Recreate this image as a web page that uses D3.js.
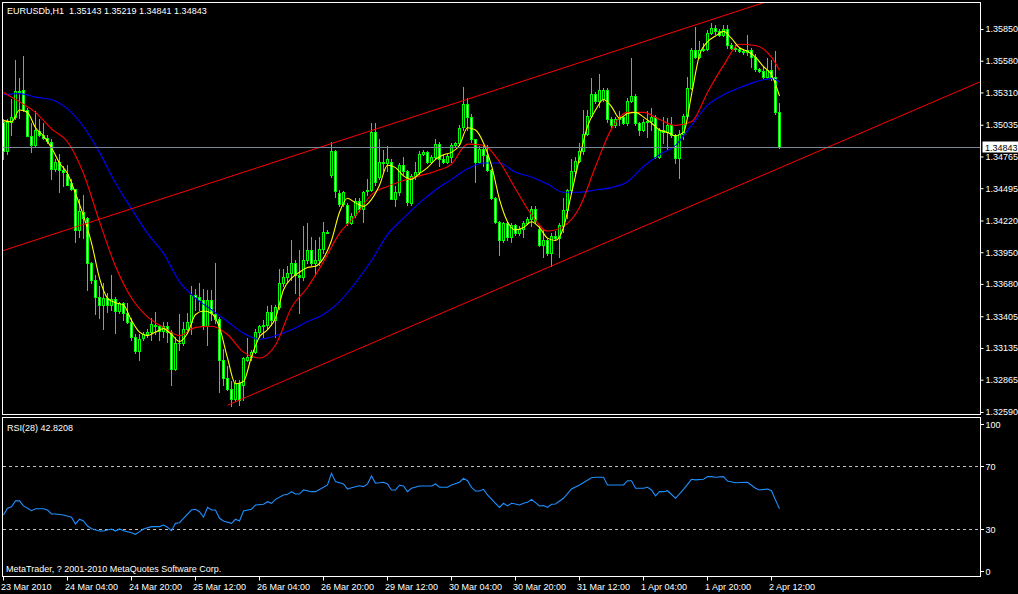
<!DOCTYPE html>
<html><head><meta charset="utf-8">
<script src="https://cdn.jsdelivr.net/npm/d3@7"></script>
<style>html,body{margin:0;padding:0;background:#000;overflow:hidden}svg{display:block}</style>
</head><body>
<svg id="c" width="1018" height="594"></svg>
<script>
// ---------------- DATA ----------------
const symbol = "EURUSDb,H1";
const opens = [
1.3506,1.3481,1.3506,1.3510,1.3532,1.3533,1.3516,1.3494,1.3486,1.3498,
1.3495,1.3492,1.3489,1.3466,1.3472,1.3465,1.3462,1.3454,1.3449,1.3414,
1.3429,1.3424,1.3386,1.3371,1.3357,1.3350,1.3356,1.3350,1.3355,1.3345,
1.3352,1.3343,1.3336,1.3323,1.3311,1.3322,1.3325,1.3327,1.3333,1.3332,
1.3328,1.3332,1.3327,1.3296,1.3318,1.3318,1.3330,1.3336,1.3359,1.3357,
1.3354,1.3332,1.3354,1.3342,1.3338,1.3303,1.3288,1.3279,1.3270,1.3284,
1.3282,1.3303,1.3306,1.3310,1.3327,1.3332,1.3333,1.3344,1.3337,1.3348,
1.3369,1.3374,1.3377,1.3386,1.3376,1.3374,1.3388,1.3397,1.3386,1.3388,
1.3398,1.3412,1.3461,1.3481,1.3445,1.3436,1.3435,1.3420,1.3427,1.3439,
1.3432,1.3447,1.3448,1.3497,1.3459,1.3472,1.3471,1.3472,1.3440,1.3446,
1.3469,1.3464,1.3437,1.3460,1.3463,1.3479,1.3480,1.3472,1.3476,1.3487,
1.3474,1.3472,1.3476,1.3486,1.3488,1.3502,1.3521,1.3510,1.3491,1.3472,
1.3483,1.3478,1.3465,1.3441,1.3421,1.3405,1.3420,1.3408,1.3418,1.3411,
1.3415,1.3420,1.3423,1.3432,1.3415,1.3401,1.3405,1.3394,1.3409,1.3407,
1.3417,1.3431,1.3448,1.3464,1.3473,1.3481,1.3496,1.3511,1.3530,1.3524,
1.3525,1.3533,1.3508,1.3503,1.3508,1.3510,1.3505,1.3524,1.3528,1.3505,
1.3499,1.3506,1.3507,1.3510,1.3476,1.3499,1.3497,1.3503,1.3495,1.3475,
1.3496,1.3511,1.3535,1.3567,1.3561,1.3567,1.3568,1.3582,1.3586,1.3583,
1.3580,1.3585,1.3571,1.3569,1.3568,1.3566,1.3565,1.3567,1.3561,1.3551,
1.3549,1.3544,1.3550,1.3544,1.35143];
const highs = [
1.3508,1.3508,1.3525,1.3559,1.3543,1.3562,1.3518,1.3505,1.3515,1.3508,
1.3505,1.3495,1.3491,1.3474,1.3479,1.3468,1.3469,1.3457,1.3449,1.3440,
1.3444,1.3425,1.3387,1.3376,1.3366,1.3369,1.3360,1.3376,1.3357,1.3353,
1.3353,1.3352,1.3339,1.3325,1.3325,1.3327,1.3330,1.3339,1.3344,1.3333,
1.3336,1.3336,1.3329,1.3323,1.3342,1.3336,1.3343,1.3366,1.3364,1.3369,
1.3364,1.3363,1.3363,1.3386,1.3340,1.3313,1.3298,1.3285,1.3286,1.3286,
1.3306,1.3322,1.3312,1.3330,1.3333,1.3337,1.3349,1.3350,1.3350,1.3381,
1.3381,1.3383,1.3405,1.3388,1.3397,1.3417,1.3420,1.3408,1.3405,1.3408,
1.3421,1.3414,1.3489,1.3482,1.3448,1.3447,1.3437,1.3428,1.3441,1.3441,
1.3447,1.3457,1.3505,1.3505,1.3491,1.3482,1.3485,1.3474,1.3451,1.3471,
1.3476,1.3465,1.3462,1.3472,1.3481,1.3482,1.3481,1.3478,1.3491,1.3489,
1.3478,1.3479,1.3488,1.3489,1.3503,1.3536,1.3526,1.3513,1.3491,1.3485,
1.3486,1.3486,1.3466,1.3442,1.3422,1.3421,1.3421,1.3420,1.3419,1.3417,
1.3422,1.3425,1.3434,1.3434,1.3417,1.3414,1.3407,1.3411,1.3413,1.3420,
1.3441,1.3449,1.3474,1.3476,1.3488,1.3516,1.3516,1.3543,1.3531,1.3547,
1.3535,1.3535,1.3510,1.3510,1.3515,1.3511,1.3526,1.3560,1.3530,1.3506,
1.3508,1.3515,1.3518,1.3512,1.3501,1.3510,1.3509,1.3510,1.3496,1.3499,
1.3513,1.3544,1.3569,1.3587,1.3575,1.3573,1.3584,1.3590,1.3588,1.3585,
1.3588,1.3588,1.3573,1.3571,1.3569,1.3568,1.3580,1.3569,1.3564,1.3552,
1.3553,1.3560,1.3559,1.3566,1.35219];
const lows = [
1.3474,1.3479,1.3495,1.3508,1.3509,1.3515,1.3494,1.3480,1.3485,1.3494,
1.3491,1.3488,1.3457,1.3464,1.3446,1.3451,1.3452,1.3448,1.3404,1.3408,
1.3407,1.3363,1.3369,1.3342,1.3339,1.3330,1.3344,1.3346,1.3326,1.3343,
1.3337,1.3335,1.3320,1.3309,1.3303,1.3320,1.3323,1.3320,1.3325,1.3320,
1.3323,1.3319,1.3282,1.3295,1.3312,1.3316,1.3326,1.3325,1.3346,1.3346,
1.3330,1.3316,1.3337,1.3335,1.3276,1.3282,1.3278,1.3264,1.3268,1.3265,
1.3269,1.3302,1.3303,1.3309,1.3323,1.3323,1.3330,1.3333,1.3323,1.3347,
1.3366,1.3370,1.3371,1.3360,1.3343,1.3371,1.3386,1.3384,1.3376,1.3384,
1.3394,1.3411,1.3459,1.3442,1.3434,1.3434,1.3418,1.3419,1.3425,1.3430,
1.3421,1.3444,1.3447,1.3452,1.3457,1.3464,1.3464,1.3440,1.3434,1.3444,
1.3462,1.3435,1.3435,1.3457,1.3462,1.3478,1.3471,1.3471,1.3474,1.3468,
1.3471,1.3471,1.3472,1.3485,1.3486,1.3499,1.3499,1.3489,1.3455,1.3471,
1.3468,1.3464,1.3440,1.3420,1.3393,1.3404,1.3405,1.3404,1.3410,1.3410,
1.3408,1.3419,1.3417,1.3420,1.3400,1.3391,1.3393,1.3383,1.3405,1.3391,
1.3412,1.3424,1.3447,1.3462,1.3472,1.3479,1.3495,1.3510,1.3522,1.3519,
1.3524,1.3506,1.3502,1.3502,1.3503,1.3504,1.3503,1.3523,1.3503,1.3495,
1.3498,1.3493,1.3499,1.3475,1.3475,1.3488,1.3483,1.3493,1.3471,1.3458,
1.3491,1.3510,1.3534,1.3560,1.3560,1.3566,1.3567,1.3581,1.3581,1.3579,
1.3579,1.3569,1.3568,1.3566,1.3565,1.3564,1.3563,1.3553,1.3549,1.3548,
1.3543,1.3543,1.3542,1.3513,1.34841];
const closes = [
1.3481,1.3506,1.3510,1.3532,1.3531,1.3516,1.3494,1.3486,1.3499,1.3495,
1.3492,1.3490,1.3466,1.3472,1.3465,1.3463,1.3452,1.3449,1.3414,1.3430,
1.3424,1.3386,1.3371,1.3357,1.3350,1.3356,1.3350,1.3355,1.3345,1.3352,
1.3343,1.3336,1.3323,1.3311,1.3321,1.3325,1.3327,1.3334,1.3332,1.3328,
1.3332,1.3327,1.3296,1.3318,1.3318,1.3330,1.3336,1.3359,1.3357,1.3354,
1.3332,1.3354,1.3343,1.3338,1.3303,1.3288,1.3279,1.3270,1.3284,1.3269,
1.3305,1.3306,1.3310,1.3327,1.3332,1.3333,1.3344,1.3337,1.3348,1.3369,
1.3374,1.3377,1.3386,1.3376,1.3374,1.3388,1.3397,1.3386,1.3388,1.3398,
1.3412,1.3411,1.3481,1.3447,1.3436,1.3446,1.3420,1.3426,1.3439,1.3432,
1.3446,1.3448,1.3497,1.3455,1.3472,1.3471,1.3474,1.3440,1.3446,1.3469,
1.3464,1.3438,1.3460,1.3463,1.3479,1.3480,1.3472,1.3476,1.3487,1.3474,
1.3472,1.3477,1.3486,1.3488,1.3501,1.3521,1.3510,1.3491,1.3472,1.3483,
1.3478,1.3465,1.3441,1.3421,1.3405,1.3420,1.3408,1.3418,1.3411,1.3415,
1.3420,1.3423,1.3432,1.3422,1.3401,1.3405,1.3394,1.3409,1.3407,1.3418,
1.3431,1.3448,1.3464,1.3473,1.3481,1.3496,1.3511,1.3530,1.3524,1.3533,
1.3533,1.3508,1.3503,1.3508,1.3510,1.3505,1.3524,1.3528,1.3505,1.3499,
1.3506,1.3507,1.3510,1.3476,1.3499,1.3497,1.3503,1.3495,1.3475,1.3496,
1.3511,1.3535,1.3567,1.3561,1.3567,1.3568,1.3582,1.3586,1.3583,1.3580,
1.3585,1.3571,1.3569,1.3568,1.3566,1.3565,1.3567,1.3561,1.3551,1.3549,
1.3544,1.3550,1.3544,1.3514,1.34843];

// moving averages (yellow every 2 bars, red/blue every 4 bars + last bar)
const yellowMA = [
1.3507,1.3506,1.3516,1.3514,1.3501,1.3494,1.3484,1.3471,1.3462,1.3445,
1.3426,1.3403,1.3373,1.3356,1.3352,1.3350,1.3337,1.3327,1.3324,1.3327,
1.3330,1.3325,1.3319,1.3326,1.3342,1.3345,1.3343,1.3331,1.3305,1.3283,
1.3285,1.3306,1.3323,1.3329,1.3339,1.3363,1.3373,1.3378,1.3382,1.3383,
1.3390,1.3405,1.3429,1.3441,1.3437,1.3434,1.3440,1.3452,1.3469,1.3467,
1.3460,1.3457,1.3462,1.3467,1.3474,1.3478,1.3480,1.3486,1.3501,1.3499,
1.3488,1.3469,1.3440,1.3421,1.3414,1.3416,1.3421,1.3416,1.3407,1.3405,
1.3416,1.3445,1.3475,1.3502,1.3516,1.3525,1.3519,1.3509,1.3513,1.3514,
1.3510,1.3505,1.3499,1.3497,1.3494,1.3497,1.3529,1.3563,1.3574,1.3579,
1.3583,1.3577,1.3569,1.3566,1.3561,1.3553,1.3546,1.3528];
const redMA = [
1.3531,1.3523,1.3514,1.3500,1.3489,1.3462,1.3421,1.3383,1.3356,1.3340,
1.3331,1.3324,1.3331,1.3332,1.3325,1.3310,1.3305,1.3316,1.3348,1.3365,
1.3387,1.3411,1.3426,1.3444,1.3451,1.3456,1.3460,1.3464,1.3470,1.3487,
1.3486,1.3472,1.3449,1.3427,1.3413,1.3417,1.3433,1.3468,1.3500,1.3514,
1.3514,1.3508,1.3503,1.3506,1.3531,1.3554,1.3572,1.3571,1.3561,1.3550];
const blueMA = [
1.3529,1.3530,1.3527,1.3525,1.3517,1.3502,1.3480,1.3454,1.3432,1.3411,
1.3394,1.3370,1.3356,1.3346,1.3336,1.3326,1.3321,1.3324,1.3329,1.3336,
1.3342,1.3353,1.3369,1.3388,1.3410,1.3424,1.3437,1.3448,1.3457,1.3466,
1.3471,1.3471,1.3463,1.3459,1.3453,1.3446,1.3446,1.3448,1.3450,1.3455,
1.3468,1.3478,1.3486,1.3503,1.3520,1.3529,1.3535,1.3540,1.3543,1.3540];

// RSI(28)
const rsiBars = [0,1,2,3,4,5,7,8,10,11,12,13,15,17,18,19,20,21,22,24,25,27,28,29,30,32,33,34,35,37,39,40,41,42,43,44,45,47,48,49,50,51,52,53,54,55,57,58,59,60,62,63,65,66,67,68,70,71,72,73,74,75,77,78,80,81,82,83,85,86,87,89,90,91,92,93,95,96,97,98,99,100,101,102,104,107,108,109,111,112,114,115,116,117,118,119,120,121,123,124,125,126,127,128,129,130,131,132,133,134,135,136,137,138,140,142,144,147,148,150,151,153,155,156,157,158,160,161,162,163,164,165,166,168,170,172,173,175,176,177,178,180,181,183,186,188,189,191,192,193,194];
const rsiVals = [38.9,43.2,44.2,47.9,47.9,44.7,41.7,42.9,42.9,42.1,39.6,39.6,38.9,37.5,33.2,36.2,35.1,31.9,30.2,28.7,28.7,30.0,28.7,30.0,28.9,27.6,26.6,28.3,30.0,31.5,31.5,32.5,31.1,28.9,33.6,34.0,36.8,42.1,42.6,41.0,37.5,43.8,42.1,42.1,36.8,35.1,33.6,36.2,35.1,41.5,42.6,45.3,45.8,47.4,46.4,48.9,51.7,52.1,53.8,52.3,52.3,54.9,53.8,53.8,56.6,58.1,65.5,60.2,58.7,55.5,56.3,57.6,57.0,58.7,63.8,59.2,59.8,58.7,54.9,54.9,57.9,57.4,53.8,56.0,57.4,57.4,58.7,56.6,56.6,58.1,59.8,62.3,60.8,56.6,54.2,54.2,55.3,51.7,46.4,43.8,46.4,44.7,46.4,45.9,45.3,46.4,47.0,48.9,46.8,44.7,44.9,43.8,45.8,45.9,49.6,55.5,58.1,62.7,63.0,63.0,58.1,58.1,58.1,60.8,60.8,56.0,56.0,56.6,54.9,51.1,53.8,53.8,54.4,49.6,55.3,61.7,61.3,61.7,63.4,63.4,63.0,63.4,60.6,59.5,59.8,56.0,54.9,55.5,54.4,48.5,42.8208];
const rsiLevels = [70, 30];
const rsiAxisLabels = [100, 70, 30, 0];

// trend lines: [bar index, price]
const trendUpper = [[0, 1.33965], [172, 1.35874]];
const trendLower = [[56, 1.32648], [137, 1.33833]];

// axis ticks
const yTicks = [1.35850,1.35580,1.35310,1.35035,1.34765,1.34495,1.34220,1.33950,1.33680,1.33405,1.33135,1.32865,1.32590];
const xTickBars = [0,16,32,48,64,80,96,112,128,144,160,176,192];
const xTickLabels = ["23 Mar 2010","24 Mar 04:00","24 Mar 20:00","25 Mar 12:00","26 Mar 04:00","26 Mar 20:00","29 Mar 12:00","30 Mar 04:00","30 Mar 20:00","31 Mar 12:00","1 Apr 04:00","1 Apr 20:00","2 Apr 12:00"];
const copyright = "MetaTrader, ? 2001-2010 MetaQuotes Software Corp.";

// ---------------- DRAW ----------------
const FONT = "'Liberation Sans', Arial, sans-serif";
const svg = d3.select("#c");
svg.append("rect").attr("width",1018).attr("height",594).attr("fill","#000");

const n = closes.length;
const xS = d3.scaleLinear().domain([0, n-1]).range([3, 3 + 4*(n-1)]);
const yS = d3.scaleLinear().domain([1.32590, 1.35850]).range([412, 29]);
const rS = d3.scaleLinear().domain([0, 100]).range([576, 419.25]);

const defs = svg.append("defs");
defs.append("clipPath").attr("id","clipMain").append("rect").attr("x",3).attr("y",3).attr("width",977).attr("height",411);
defs.append("clipPath").attr("id","clipRsi").append("rect").attr("x",3).attr("y",418).attr("width",977).attr("height",158);

const LIME = "#00ff00";
const gMain = svg.append("g").attr("clip-path","url(#clipMain)");

const bars = d3.range(n).map(i => ({i, o:opens[i], h:highs[i], l:lows[i], c:closes[i]}));
// wicks
gMain.append("g").selectAll("line").data(bars).join("line")
  .attr("x1", d => xS(d.i)+0.5).attr("x2", d => xS(d.i)+0.5)
  .attr("y1", d => Math.round(yS(d.h))).attr("y2", d => Math.round(yS(d.l))+1)
  .attr("stroke", LIME).attr("stroke-width",1).attr("shape-rendering","crispEdges");
// bodies
const gBody = gMain.append("g");
bars.forEach(d => {
  const yt = Math.round(yS(Math.max(d.o,d.c))), yb = Math.round(yS(Math.min(d.o,d.c)));
  if (yb - yt < 1) {
    gBody.append("line").attr("x1", xS(d.i)-1).attr("x2", xS(d.i)+2)
      .attr("y1", yt+0.5).attr("y2", yt+0.5).attr("stroke", LIME).attr("shape-rendering","crispEdges");
  } else {
    gBody.append("rect").attr("x", xS(d.i)-0.5).attr("y", yt+0.5).attr("width",2).attr("height", yb-yt)
      .attr("fill", d.c > d.o ? "#000" : "#fff").attr("stroke", LIME).attr("stroke-width",1)
      .attr("shape-rendering","crispEdges");
  }
});

// moving averages
const maLine = d3.line().x(d => xS(d[0])+0.5).y(d => yS(d[1])).curve(d3.curveMonotoneX);
const bars4 = d3.range(0, n-2, 4).concat([n-1]);
const bars2 = d3.range(0, n, 2);
gMain.append("path").datum(blueMA.map((v,k)=>[bars4[k],v])).attr("d", maLine)
  .attr("fill","none").attr("stroke","#0000ff").attr("stroke-width",1.1);
gMain.append("path").datum(redMA.map((v,k)=>[bars4[k],v])).attr("d", maLine)
  .attr("fill","none").attr("stroke","#ff0000").attr("stroke-width",1.1);
gMain.append("path").datum(yellowMA.map((v,k)=>[bars2[k],v])).attr("d", maLine)
  .attr("fill","none").attr("stroke","#ffff00").attr("stroke-width",1.1);

// trend lines
function ray(pts, fromBar, toBar) {
  const [[b1,p1],[b2,p2]] = pts; const s = (p2-p1)/(b2-b1);
  return [[fromBar, p1 + s*(fromBar-b1)], [toBar, p1 + s*(toBar-b1)]];
}
const tl = d3.line().x(d => xS(d[0])+0.5).y(d => yS(d[1]));
const rightBar = xS.invert(980.5), leftBar = xS.invert(2.5);
gMain.append("path").datum(ray(trendUpper, leftBar, rightBar)).attr("d", tl)
  .attr("stroke","#ff0000").attr("stroke-width",1).attr("fill","none");
gMain.append("path").datum(ray(trendLower, trendLower[0][0], rightBar)).attr("d", tl)
  .attr("stroke","#ff0000").attr("stroke-width",1).attr("fill","none");

// current price line
const last = closes[n-1];
const yLast = Math.round(yS(last)) + 0.5;
gMain.append("line").attr("x1",3).attr("x2",980).attr("y1",yLast).attr("y2",yLast)
  .attr("stroke","#778899").attr("stroke-width",1).attr("shape-rendering","crispEdges");

// panel borders
svg.append("rect").attr("x",2.5).attr("y",2.5).attr("width",978).attr("height",412)
  .attr("fill","none").attr("stroke","#fff").attr("shape-rendering","crispEdges");
svg.append("rect").attr("x",2.5).attr("y",417.5).attr("width",978).attr("height",159)
  .attr("fill","none").attr("stroke","#fff").attr("shape-rendering","crispEdges");

// price axis
const yAxis = d3.axisRight(yS).tickValues(yTicks).tickSize(3).tickPadding(2).tickFormat(d3.format(".5f"));
const gy = svg.append("g").attr("transform","translate(980.5,0)").call(yAxis);
gy.select(".domain").remove();
gy.selectAll("line").attr("stroke","#fff");
gy.selectAll("text").attr("fill","#fff").attr("font-family",FONT).attr("font-size","9px");

// current price label
svg.append("rect").attr("x",982.5).attr("y",yLast-6).attr("width",36).attr("height",11).attr("fill","#fff");
svg.append("text").attr("x",985).attr("y",yLast+3.5).attr("fill","#000").attr("font-family",FONT)
  .attr("font-size","9px").text(last.toFixed(5));

// RSI panel
const gR = svg.append("g").attr("clip-path","url(#clipRsi)");
rsiLevels.forEach(v => {
  const y = Math.round(rS(v)) + 0.5;
  gR.append("line").attr("x1",3).attr("x2",980).attr("y1",y).attr("y2",y)
    .attr("stroke","#c0c0c0").attr("stroke-dasharray","3,3").attr("shape-rendering","crispEdges");
});
const rsiLine = d3.line().x((d,k) => xS(rsiBars[k])+0.5).y(d => rS(d));
gR.append("path").datum(rsiVals).attr("d", rsiLine).attr("fill","none")
  .attr("stroke","#1e90ff").attr("stroke-width",1.1);

rsiAxisLabels.forEach(v => {
  const y = Math.round(Math.min(Math.max(rS(v), 424), 571)) + 0.5;
  svg.append("line").attr("x1",980.5).attr("x2",983.5).attr("y1",y).attr("y2",y)
    .attr("stroke","#fff").attr("shape-rendering","crispEdges");
  svg.append("text").attr("x",985.5).attr("y",y+3).attr("fill","#fff").attr("font-family",FONT)
    .attr("font-size","9px").text(v);
});

// time axis
const xAxis = d3.axisBottom(xS).tickValues(xTickBars).tickSize(4).tickFormat((d,k) => xTickLabels[k]);
const gx = svg.append("g").attr("transform","translate(0,576.5)").call(xAxis);
gx.select(".domain").remove();
gx.selectAll("line").attr("stroke","#fff");
gx.selectAll("text").attr("fill","#fff").attr("font-family",FONT).attr("font-size","9px")
  .attr("text-anchor","start").attr("x",-2.5).attr("y",13.5).attr("dy",null);

// header & labels
const f5 = d3.format(".5f");
svg.append("text").attr("x",7).attr("y",14).attr("fill","#fff").attr("font-family",FONT)
  .attr("font-size","9px").style("white-space","pre")
  .text(`${symbol}  ${f5(opens[n-1])} ${f5(highs[n-1])} ${f5(lows[n-1])} ${f5(closes[n-1])}`);
svg.append("text").attr("x",7).attr("y",430.5).attr("fill","#fff").attr("font-family",FONT)
  .attr("font-size","9px").text(`RSI(28) ${rsiVals[rsiVals.length-1].toFixed(4)}`);
svg.append("text").attr("x",6).attr("y",572).attr("fill","#fff").attr("font-family",FONT)
  .attr("font-size","9px").text(copyright);
</script>
</body></html>
